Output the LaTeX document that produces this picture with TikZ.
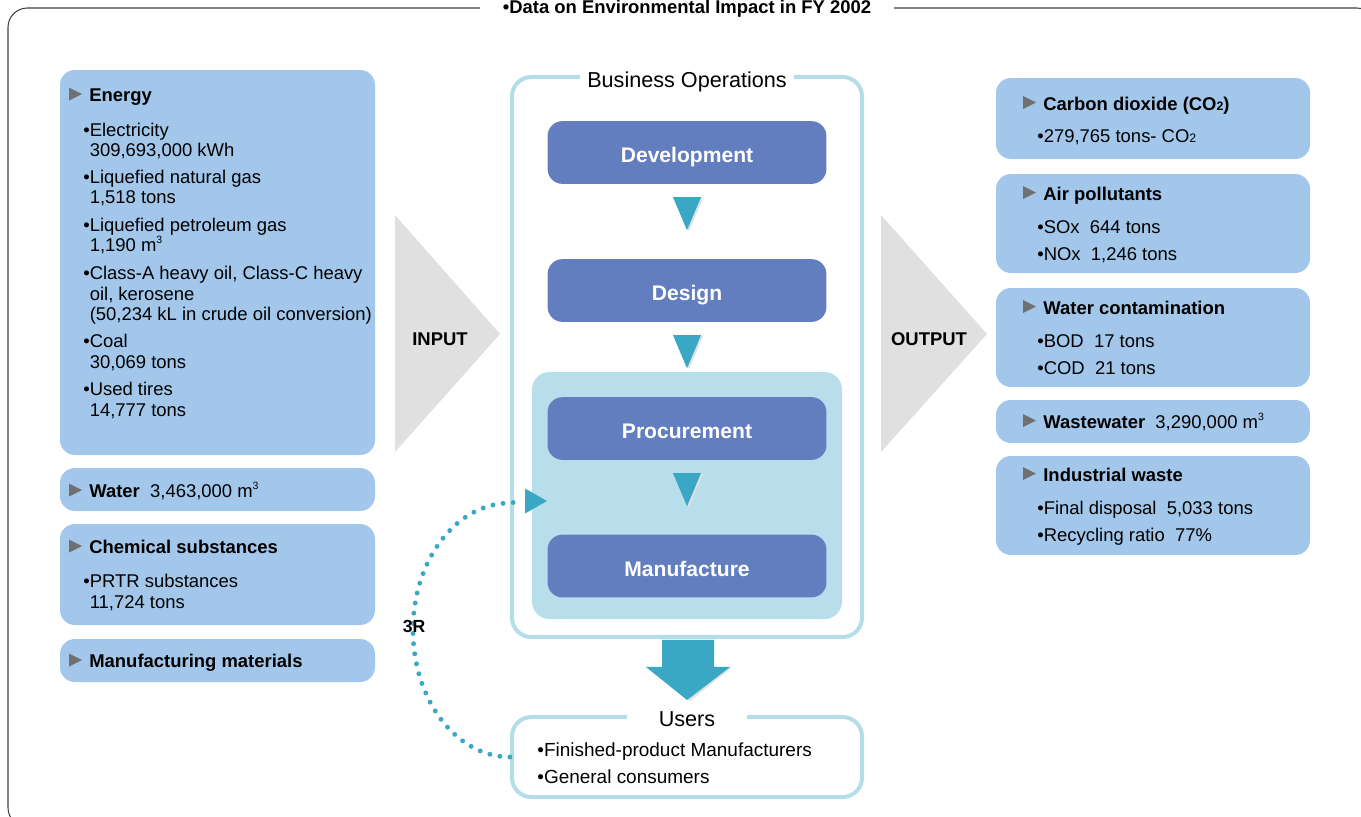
\documentclass[tikz,border=0pt]{standalone}
\usepackage{fontspec}
\setmainfont{Liberation Sans}
\usetikzlibrary{calc,fit}
\definecolor{boxblue}{RGB}{162,199,234}
\definecolor{procblue}{RGB}{98,126,191}
\definecolor{panelblue}{RGB}{183,222,234}
\definecolor{framecyan}{RGB}{180,221,233}
\definecolor{flowteal}{RGB}{58,168,196}
\definecolor{arrowgray}{RGB}{224,224,224}
\definecolor{markgray}{RGB}{112,112,112}
\newcommand{\ind}{\phantom{•}}
\newcommand{\subtwo}{{\fontsize{7}{7}\selectfont 2}}
\newcommand{\cub}{\raisebox{0.75ex}{\fontsize{6}{6}\selectfont 3}}

\begin{document}
\begin{tikzpicture}[x=0.02cm, y=-0.02cm,
    txt/.style={anchor=base west, inner sep=0pt, font=\fontsize{10.5}{12}\selectfont},
    hdtxt/.style={txt, font=\bfseries\fontsize{10.5}{12}\selectfont},
    inbox/.style={fill=boxblue, rounded corners=8.5pt},
    opsframe/.style={draw=framecyan, line width=2.3pt, rounded corners=11pt, inner sep=0pt},
    proc/.style={fill=procblue, rounded corners=8.5pt, text=white,
      font=\bfseries\fontsize{12}{14}\selectfont, text height=11.4pt, text depth=0pt,
      minimum width=280*0.5669pt, minimum height=63*0.5669pt},
    tealfill/.style={fill=flowteal},
    tshadow/.style={fill=black!12},
    dotline/.style={draw=flowteal, line width=2.8pt, line cap=round, dash pattern=on 0pt off 5.8pt},
    ioarrow/.style={fill=arrowgray}]
        \useasboundingbox (0,0) rectangle (1361,816);
        \clip (0,0) rectangle (1361,816);
        % Outer frame and title
        \draw[black!75, line width=0.6pt, rounded corners=11pt] (8,8) rectangle (1376,827);
        \node[fill=white, inner xsep=13pt, inner ysep=2pt, anchor=base,
          font=\bfseries\fontsize{10.5}{12}\selectfont] (title) at (687,13)
          {•Data on Environmental Impact in FY 2002};
        % Input side
        \fill[inbox] (60,70) rectangle (375,455);
        \fill[inbox] (60,468) rectangle (375,511);
        \fill[inbox] (60,524) rectangle (375,625);
        \fill[inbox] (60,639) rectangle (375,682);
        \foreach \y/\t in {101/Energy, 497/{Water\ \ \mdseries 3,463,000 m\cub},
                           553/Chemical substances, 667/Manufacturing materials} {
          \fill[markgray] (69,\y-0.5) -- ++(0,-13) -- ++(13,6.5) -- cycle;
          \node[hdtxt] (in\y) at (89,\y) {\t};
        }
        \foreach \y/\t in {136/{•Electricity}, 156/{\ind309,693,000 kWh},
                           183.5/{•Liquefied natural gas}, 203.5/{\ind1,518 tons},
                           231/{•Liquefied petroleum gas}, 251/{\ind1,190 m\cub},
                           279.5/{•Class-A heavy oil, Class-C heavy}, 300/{\ind oil, kerosene},
                           320.5/{\ind(50,234 kL in crude oil conversion)},
                           347.5/{•Coal}, 368/{\ind30,069 tons},
                           395/{•Used tires}, 416/{\ind14,777 tons},
                           587/{•PRTR substances}, 608/{\ind11,724 tons}}
          \node[txt] (it\y) at (83,\y) {\t};
        \fill[ioarrow] (395,215) -- (500,334) -- (395,452) -- cycle;
        \node[font=\bfseries\fontsize{10.5}{12}\selectfont] (input) at (440,339) {INPUT};
        % Business operations
        \node[opsframe, fit={(512,77) (862,637)}] (ops) {};
        \node[fill=white, inner xsep=4pt, inner ysep=1pt, anchor=base, font=\fontsize{12.3}{14}\selectfont]
          (opslbl) at ($(ops.north)+(0,13)$) {Business Operations};
        \node[fill=panelblue, rounded corners=10pt, inner sep=0pt, fit={(532,372) (842,619)}] (mfg) {};
        \node[proc] (dev) at (687,152.5) {Development};
        \node[proc] (des) at (687,290.5) {Design};
        \node[proc] (pro) at (687,428.5) {Procurement};
        \node[proc] (man) at (687,566) {Manufacture};
        \foreach \a in {dev,des,pro} {
          \fill[tshadow] ($(\a.south)+(-12,14)$) -- ++(28,0) -- ++(-14,33) -- cycle;
          \fill[tealfill] ($(\a.south)+(-14,13)$) -- ++(28,0) -- ++(-14,33) -- cycle;
        }
        % Users
        \node[opsframe, fit={(512,717) (862,797)}] (users) {};
        \node[fill=white, inner xsep=18pt, inner ysep=1pt, anchor=base, font=\fontsize{12.3}{14}\selectfont]
          (userlbl) at ($(users.north)+(0,12)$) {Users};
        \node[txt, font=\fontsize{10.8}{12}\selectfont] (u1) at (537,756) {•Finished-product Manufacturers};
        \node[txt, font=\fontsize{10.8}{12}\selectfont] (u2) at (537,783) {•General consumers};
        \coordinate (tip) at ($(users.north)+(0,-15)$);
        \fill[tshadow] ($(tip)+(3,1)$) -- ++(-41,-33) -- ++(82,0) -- cycle;
        \fill[tealfill] (tip) -- ++(-41,-33) -- ++(16,0) -- ++(0,-27) -- ++(52,0)
          -- ++(0,27) -- ++(16,0) -- cycle;
        % 3R loop
        \coordinate (in3r) at (547,501);
        \draw[dotline] (users.west) arc[start angle=90, end angle=270, x radius=97, y radius=127]
          -- ($(in3r)+(-24,0)$);
        \fill[tealfill] (in3r) -- ++(-22,-12.5) -- ++(0,25) -- cycle;
        \node[font=\bfseries\fontsize{10}{12}\selectfont] (rr) at (414,626) {3R};
        % Output side
        \fill[ioarrow] (881,215) -- (987,334) -- (881,452) -- cycle;
        \node[font=\bfseries\fontsize{10.5}{12}\selectfont] (output) at (929,339) {OUTPUT};
        \foreach \a/\b in {78/159, 174/273, 288/387, 400/443, 456/555}
          \fill[inbox] (996,\a) rectangle (1310,\b);
        \foreach \y/\t in {110/{Carbon dioxide (CO\subtwo)}, 200/Air pollutants,
                           314/Water contamination,
                           428/{Wastewater\ \ \mdseries 3,290,000 m\cub},
                           481/Industrial waste} {
          \fill[markgray] (1023,\y-1) -- ++(0,-13) -- ++(13,6.5) -- cycle;
          \node[hdtxt] (out\y) at (1043,\y) {\t};
        }
        \foreach \y/\t in {142/{•279,765 tons- CO\subtwo},
                           233/{•SOx\ \ 644 tons}, 260/{•NOx\ \ 1,246 tons},
                           347/{•BOD\ \ 17 tons}, 374/{•COD\ \ 21 tons},
                           514/{•Final disposal\ \ 5,033 tons}, 541/{•Recycling ratio\ \ 77\%}}
          \node[txt] (ot\y) at (1037,\y) {\t};
      \end{tikzpicture}
\end{document}
